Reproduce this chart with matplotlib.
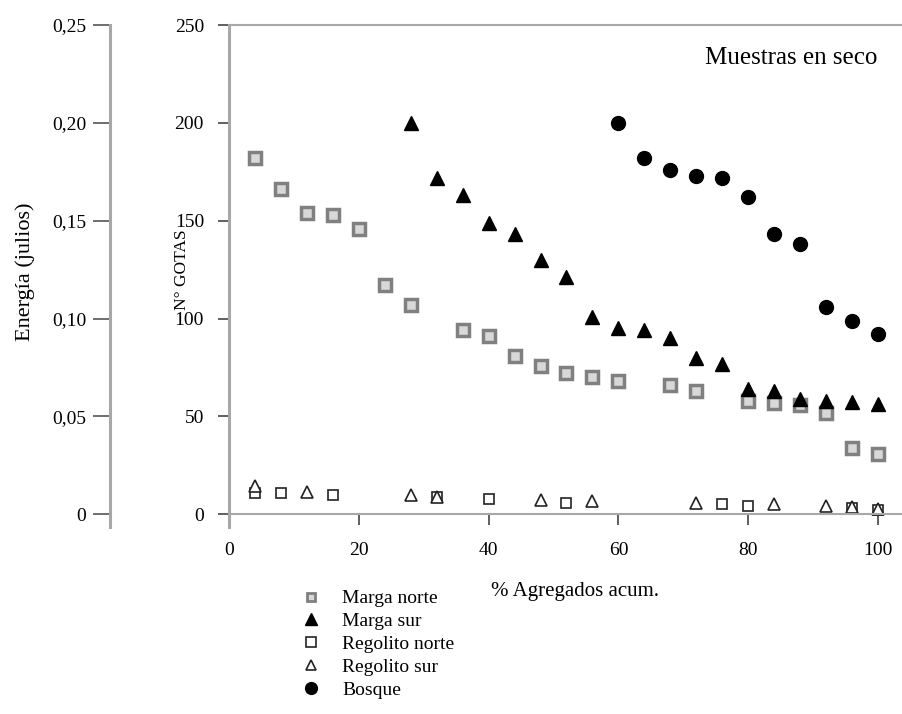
import matplotlib
matplotlib.use('Agg')
import matplotlib.pyplot as plt
from matplotlib.lines import Line2D

plt.rcParams['font.family'] = ['Liberation Serif', 'DejaVu Serif']

# Marga norte (gray squares)
mn_x = [4, 8, 12, 16, 20, 24, 28, 36, 40, 44, 48, 52, 56, 60, 68, 72, 80, 84, 88, 92, 96, 100]
mn_y = [182, 166, 154, 153, 146, 117, 107, 94, 91, 81, 76, 72, 70, 68, 66, 63, 58, 57, 56, 52, 34, 31]

# Marga sur (black triangles)
ms_x = [28, 32, 36, 40, 44, 48, 52, 56, 60, 64, 68, 72, 76, 80, 84, 88, 92, 96, 100]
ms_y = [200, 172, 163, 149, 143, 130, 121, 101, 95, 94, 90, 80, 77, 64, 63, 59, 58, 57.5, 56.5]

# Regolito norte (open squares)
rn_x = [4, 8, 16, 32, 40, 52, 76, 80, 96, 100]
rn_y = [11, 11, 10, 9, 8, 6, 5, 4, 3, 2]

# Regolito sur (open triangles)
rs_x = [4, 12, 28, 32, 48, 56, 72, 84, 92, 96, 100]
rs_y = [14.5, 11.5, 10, 9, 7.5, 7, 6, 5, 4, 3.5, 2.5]

# Bosque (black circles)
bo_x = [60, 64, 68, 72, 76, 80, 84, 88, 92, 96, 100]
bo_y = [200, 182, 176, 173, 172, 162, 143, 138, 106, 99, 92]

y_ticks = [0, 50, 100, 150, 200, 250]
x_ticks = [0, 20, 40, 60, 80, 100]
e_ticks = [0, 0.05, 0.10, 0.15, 0.20, 0.25]
e_labels = ['0', '0,05', '0,10', '0,15', '0,20', '0,25']

W, H = 903, 714
fig = plt.figure(figsize=(W / 100, H / 100), dpi=100)

ax_bottom = (H - 527) / H
ax_height = (527 - 25) / H
ax = fig.add_axes([229 / W, ax_bottom, (W - 229) / W, ax_height])

spine_col = '#a8a8a8'
ax.set_xlim(0, 103.85)
ax.set_ylim(-6.5, 250)
ax.spines['right'].set_visible(False)
ax.spines['bottom'].set_position(('data', 0))
for s in ['left', 'top', 'bottom']:
    ax.spines[s].set_color(spine_col)
ax.spines['left'].set_linewidth(2.2)
ax.spines['top'].set_linewidth(1.5)
ax.spines['bottom'].set_linewidth(1.5)

ax.plot(mn_x, mn_y, ls='none', marker='s', ms=8, mfc='#d8d8d8', mec='#808080', mew=2.5)
ax.plot(ms_x, ms_y, ls='none', marker='^', ms=10.5, mfc='black', mec='black')
ax.plot(rn_x, rn_y, ls='none', marker='s', ms=7, mfc='white', mec='#222222', mew=1.2)
ax.plot(rs_x, rs_y, ls='none', marker='^', ms=8, mfc='white', mec='#222222', mew=1.2)
ax.plot(bo_x, bo_y, ls='none', marker='o', ms=10, mfc='black', mec='black')

ax.set_yticks(y_ticks)
ax.set_xticks(x_ticks)
ax.tick_params(axis='y', direction='out', length=8, width=1.2, color='#444444', pad=10, labelsize=14)
ax.tick_params(axis='x', direction='out', length=8, width=1.2, color='#444444', pad=12, labelsize=14)

ax.set_ylabel('N° GOTAS', fontsize=12.5)
ax.yaxis.set_label_coords(-0.058, 0.512)
ax.set_xlabel('% Agregados acum.', fontsize=15)
ax.xaxis.set_label_coords(0.513, -0.11)
ax.text(0.962, 0.935, 'Muestras en seco', transform=ax.transAxes, ha='right', va='center', fontsize=18)

# energy axis
ax2 = fig.add_axes([110 / W, ax_bottom, 0.001, ax_height])
ax2.set_ylim(-0.0065, 0.25)
ax2.set_xticks([])
for s in ['right', 'top', 'bottom']:
    ax2.spines[s].set_visible(False)
ax2.spines['left'].set_color(spine_col)
ax2.spines['left'].set_linewidth(2.2)
ax2.set_yticks(e_ticks)
ax2.set_yticklabels(e_labels)
ax2.tick_params(axis='y', direction='out', length=12, width=1.2, color='#555555', pad=5, labelsize=14)
ax2.patch.set_visible(False)
fig.text(25 / W, 1 - 272 / H, 'Energía (julios)', rotation=90, ha='center', va='center', fontsize=16)

handles = [
    Line2D([], [], ls='none', marker='s', ms=6, mfc='#d8d8d8', mec='#808080', mew=2),
    Line2D([], [], ls='none', marker='^', ms=9, mfc='black', mec='black'),
    Line2D([], [], ls='none', marker='s', ms=7, mfc='white', mec='#222222', mew=1.2),
    Line2D([], [], ls='none', marker='^', ms=7, mfc='white', mec='#222222', mew=1.2),
    Line2D([], [], ls='none', marker='o', ms=8.5, mfc='black', mec='black'),
]
labels = ['Marga norte', 'Marga sur', 'Regolito norte', 'Regolito sur', 'Bosque']
fig.legend(handles, labels, loc='upper left', bbox_to_anchor=(290 / W, 1 - 580 / H),
           frameon=False, fontsize=14, handlelength=1.2, handletextpad=1.0,
           labelspacing=0.27, borderpad=0)

fig.savefig('out.png', dpi=100)
